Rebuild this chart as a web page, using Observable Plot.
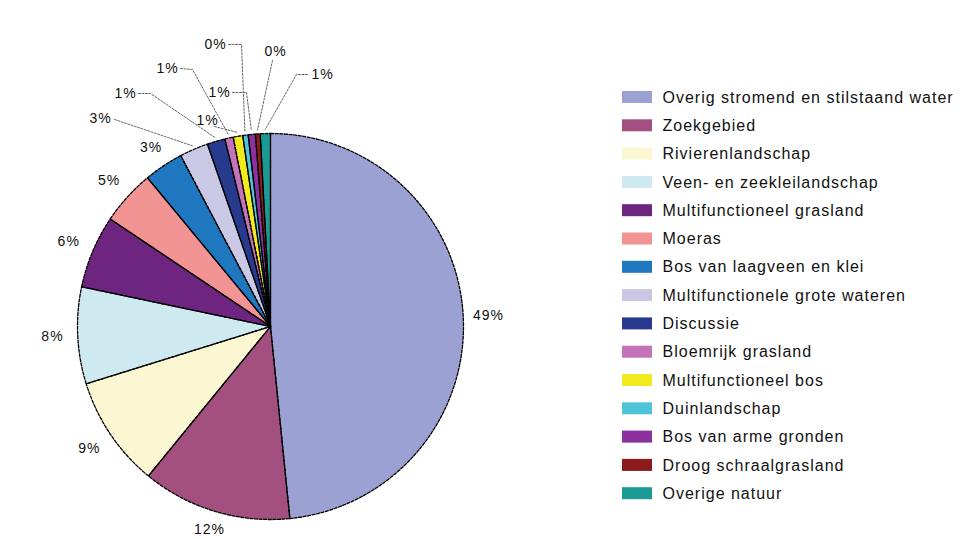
<!DOCTYPE html>
<html><head><meta charset="utf-8">
<script src="https://cdn.jsdelivr.net/npm/d3@7"></script>
<script src="https://cdn.jsdelivr.net/npm/@observablehq/plot@0.6"></script>
<style>
html,body{margin:0;padding:0;background:#fff;}
#chart svg text{letter-spacing:1px;}
</style>
</head><body><div id="chart"></div>
<script>
// ---- data ----
const categories = [
  "Overig stromend en stilstaand water",
  "Zoekgebied",
  "Rivierenlandschap",
  "Veen- en zeekleilandschap",
  "Multifunctioneel grasland",
  "Moeras",
  "Bos van laagveen en klei",
  "Multifunctionele grote wateren",
  "Discussie",
  "Bloemrijk grasland",
  "Multifunctioneel bos",
  "Duinlandschap",
  "Bos van arme gronden",
  "Droog schraalgrasland",
  "Overige natuur"
];
// estimated shares (%)
const shares = [48.4, 12.5, 9.3, 8.1, 6.1, 4.6, 3.3, 2.4, 1.5, 0.7, 0.8, 0.45, 0.6, 0.4, 0.85];
// percentage labels as printed
const pctLabels = ["49%","12%","9%","8%","6%","5%","3%","3%","1%","1%","1%","0%","1%","0%","1%"];
const colors = [
  "#9ba1d3","#a34f7f","#fbf7d3","#cfe9f0","#6d2580","#f39494","#1f77bf",
  "#c9c9e6","#283a8d","#c573b8","#f0ea1e","#4ec4d6","#8b309d","#8c1b1b","#1a9a92"
];

// ---- layout (pixel-like units) ----
const W = 966, H = 539, cx = 270, cy = 326, R = 193;
// hand-placed labels for the thin slices (index 7..14)
const smallLabelXY = [[100,118],[125,93],[167,68],[207,120],[215,44],[219,92],[275,51],[322,74]];
const leaderStart  = [[114,119],[138,93],[180,68],[214,126],[228,44],[232,92],[272,60],[307,74]];
const leaderElbow  = [null,[150,93],[192,69],null,[241,44],[246,92],null,[296,74]];
const legendX = 622, legendY0 = 97, legendStep = 28.3;

// ---- geometry ----
const total = d3.sum(shares);
let acc = 0;
const slices = shares.map((v, i) => {
  const a0 = acc / total * 2 * Math.PI; acc += v;
  const a1 = acc / total * 2 * Math.PI;
  return {i, cat: categories[i], a0, a1, mid: (a0 + a1) / 2};
});
const pt = (a, r) => [cx + r * Math.sin(a), cy - r * Math.cos(a)];
const poly = [];
for (const s of slices) {
  const n = Math.max(2, Math.ceil((s.a1 - s.a0) / (Math.PI / 360)));
  poly.push({cat: s.cat, x: cx, y: cy});
  for (let k = 0; k <= n; k++) {
    const [x, y] = pt(s.a0 + (s.a1 - s.a0) * k / n, R);
    poly.push({cat: s.cat, x, y});
  }
  poly.push({cat: s.cat, x: cx, y: cy});
}

// outside-end labels: box sits just outside the rim
const labelRadius = a => R + 8 + 17 * Math.abs(Math.sin(a)) + 6 * Math.abs(Math.cos(a));
const labels = slices.map(s => {
  if (s.i < 7) { const [x, y] = pt(s.mid, labelRadius(s.mid)); return {x, y, t: pctLabels[s.i]}; }
  const [x, y] = smallLabelXY[s.i - 7];
  return {x, y, t: pctLabels[s.i]};
});
const leaders = [];
slices.filter(s => s.i >= 7).forEach(s => {
  const j = s.i - 7;
  const pts = [leaderStart[j]];
  if (leaderElbow[j]) pts.push(leaderElbow[j]);
  pts.push(pt(s.mid, R + 4));
  pts.forEach(p => leaders.push({id: j, x: p[0], y: p[1]}));
});

const legend = categories.map((c, i) => ({cat: c, i, y: legendY0 + i * legendStep}));

const chart = Plot.plot({
  width: W, height: H, margin: 0,
  style: {fontFamily: "'Liberation Sans', Arial, sans-serif", background: "#fff", color: "#111"},
  x: {domain: [0, W], range: [0, W], axis: null},
  y: {domain: [0, H], range: [0, H], axis: null},
  color: {domain: categories, range: colors},
  marks: [
    Plot.line(poly, {x: "x", y: "y", z: "cat", fill: "cat", stroke: "none", curve: "linear"}),
    Plot.line(poly, {x: "x", y: "y", z: "cat", stroke: "#000", strokeWidth: 1.3, strokeDasharray: "3,1.6", curve: "linear"}),
    Plot.line(leaders, {x: "x", y: "y", z: "id", stroke: "#666", strokeWidth: 1, strokeDasharray: "2,1.5"}),
    Plot.text(labels, {x: "x", y: "y", text: "t", fontSize: 14, fill: "#111", textAnchor: "middle"}),
    Plot.rect(legend, {x1: legendX, x2: legendX + 30, y1: d => d.y - 6, y2: d => d.y + 6, fill: "cat"}),
    Plot.text(legend, {x: legendX + 40, y: "y", text: "cat", fontSize: 16, textAnchor: "start", fill: "#111"})
  ]
});
document.getElementById("chart").appendChild(chart);
</script>
</body></html>
